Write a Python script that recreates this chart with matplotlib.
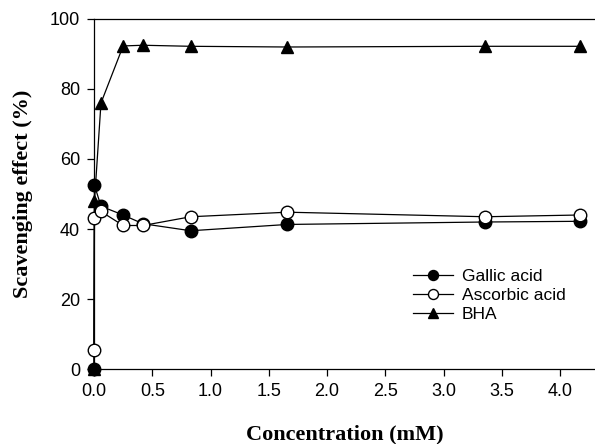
import matplotlib
matplotlib.use("Agg")
import matplotlib.pyplot as plt

conc = [0, 0.004, 0.06, 0.25, 0.42, 0.83, 1.66, 3.36, 4.17]
gallic = [0, 52.5, 46.5, 44, 41.5, 39.5, 41.3, 42, 42.2]
ascorbic = [5.5, 43, 45, 41, 41, 43.5, 44.8, 43.5, 44]
bha = [0, 48, 76, 92.3, 92.5, 92.2, 92, 92.2, 92.2]
xticks = [0.0, 0.5, 1.0, 1.5, 2.0, 2.5, 3.0, 3.5, 4.0]
yticks = [0, 20, 40, 60, 80, 100]

fig = plt.figure(figsize=(5.95, 4.44), dpi=100)
ax = fig.add_axes([94/595, 75/444, 1 - 94/595, 350/444])

lw = 0.9
ms = 9
ax.plot(conc, gallic, color="black", lw=lw, marker="o", ms=ms, mfc="black",
        mec="black", label="Gallic acid", clip_on=False, zorder=3)
ax.plot(conc, ascorbic, color="black", lw=lw, marker="o", ms=ms, mfc="white",
        mec="black", mew=1.0, label="Ascorbic acid", clip_on=False, zorder=4)
ax.plot(conc, bha, color="black", lw=lw, marker="^", ms=ms, mfc="black",
        mec="black", label="BHA", clip_on=False, zorder=3)

ax.set_xlim(0, 4.3)
ax.set_ylim(0, 100)
ax.set_xticks(xticks)
ax.set_xticklabels([f"{t:.1f}" for t in xticks])
ax.set_yticks(yticks)
ax.set_yticklabels([str(t) for t in yticks])
ax.spines["right"].set_visible(False)
for s in ["left", "bottom", "top"]:
    ax.spines[s].set_linewidth(0.9)
ax.tick_params(direction="out", length=5, width=0.9, labelsize=13, pad=5)
for lab in ax.get_xticklabels() + ax.get_yticklabels():
    lab.set_fontfamily("Liberation Sans")

ax.set_xlabel("Concentration (mM)", fontfamily="Liberation Serif",
              fontweight="bold", fontsize=16, labelpad=18)
ax.set_ylabel("Scavenging effect (%)", fontfamily="Liberation Serif",
              fontweight="bold", fontsize=16, labelpad=12)

leg = ax.legend(loc="upper left", bbox_to_anchor=(0.623, 0.305), frameon=False,
                prop={"family": "Liberation Sans", "size": 12.5},
                handlelength=2.3, handletextpad=0.5, labelspacing=0.2,
                borderaxespad=0, markerscale=0.8)

fig.savefig("out.png", dpi=100)
